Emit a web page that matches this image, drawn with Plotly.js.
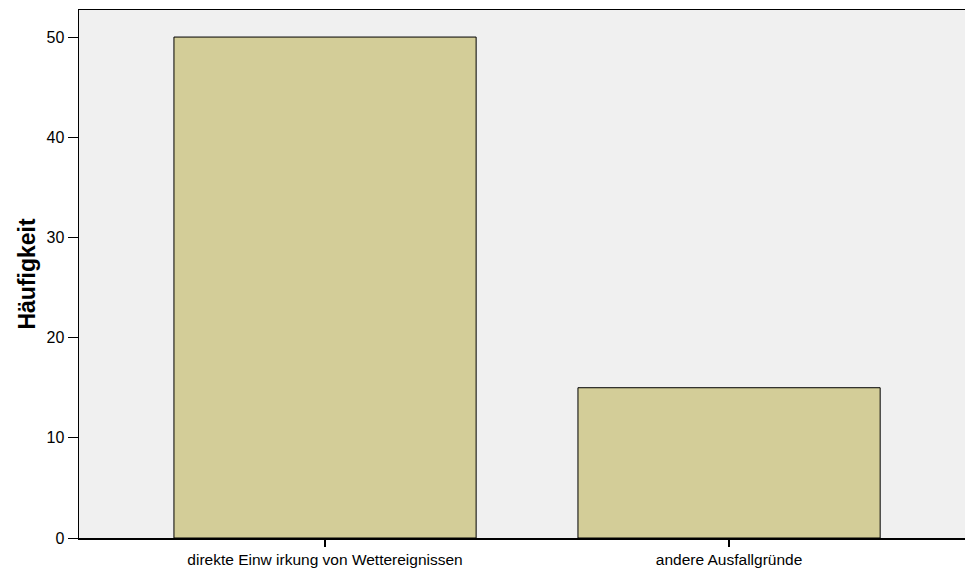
<!DOCTYPE html>
<html><head><meta charset="utf-8">
<script src="https://cdn.plot.ly/plotly-3.0.1.min.js"></script>
<style>html,body{margin:0;padding:0;background:#fff}</style>
</head><body>
<div id="chart" style="width:965px;height:572px"></div>
<script>
const categories = ["direkte Einw irkung von Wettereignissen", "andere Ausfallgründe"];
const counts = [50, 15];
const yTicks = [0, 10, 20, 30, 40, 50];

Plotly.newPlot("chart", [{
  type: "bar",
  x: [0, 1],
  y: counts,
  width: 0.748,
  marker: {color: "#d3cd98", line: {color: "#000", width: 1}},
  hoverinfo: "none"
}], {
  width: 965, height: 572,
  margin: {l: 79, r: 0, t: 10, b: 34},
  paper_bgcolor: "#ffffff",
  plot_bgcolor: "#f0f0f0",
  font: {family: "Liberation Sans, Arial, sans-serif", color: "#000"},
  showlegend: false,
  xaxis: {
    range: [-0.609, 1.584],
    tickmode: "array", tickvals: [0, 1], ticktext: categories,
    ticks: "outside", ticklen: 7, tickwidth: 1.5, tickcolor: "#000",
    tickfont: {size: 15.5},
    showline: true, linecolor: "#000", linewidth: 1.5, mirror: true,
    showgrid: false, zeroline: false, fixedrange: true
  },
  yaxis: {
    range: [0, 52.7],
    tickmode: "array", tickvals: yTicks, ticktext: yTicks.map(String),
    ticks: "outside", ticklen: 10, tickwidth: 1, tickcolor: "#000",
    tickfont: {size: 16},
    showline: true, linecolor: "#000", linewidth: 1.5,
    showgrid: false, zeroline: false, fixedrange: true,
    title: {text: "Häufigkeit", font: {size: 23, weight: "bold"}, standoff: 4}
  }
}, {displayModeBar: false, staticPlot: true});
</script>
</body></html>
